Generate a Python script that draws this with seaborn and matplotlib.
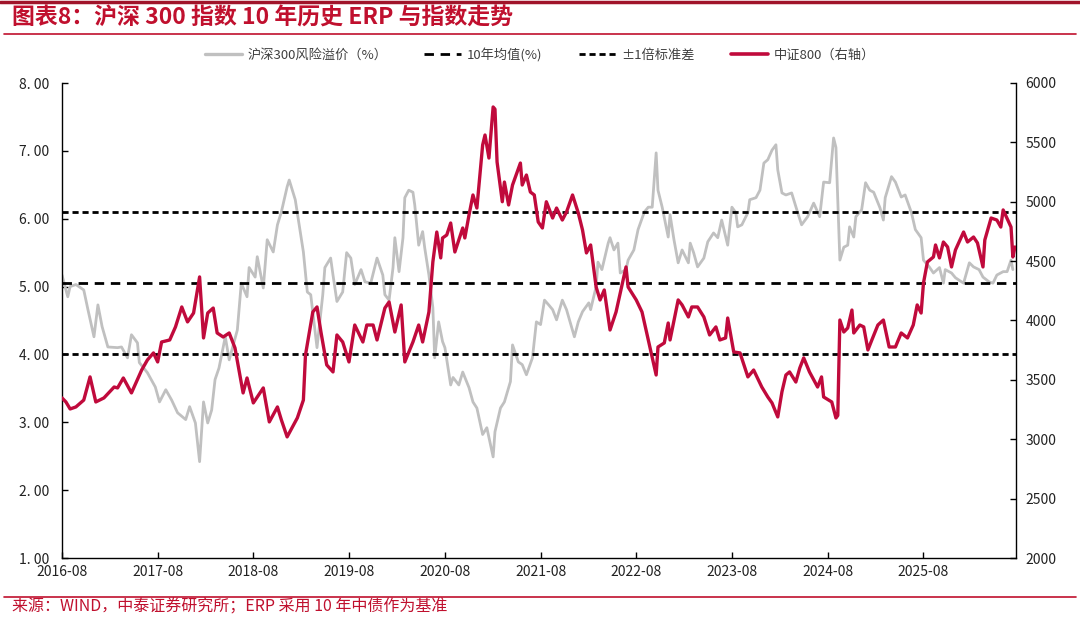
import matplotlib
matplotlib.use("Agg")
import matplotlib.pyplot as plt
from matplotlib.lines import Line2D
from matplotlib.ticker import FuncFormatter
import matplotlib.dates as mdates
import seaborn as sns
import pandas as pd

# ---------------- data ----------------
erp_dates = [
    "2016-08-01", "2016-08-23", "2016-09-01", "2016-09-23", "2016-10-23", "2016-11-08", "2016-12-01", "2016-12-16",
    "2017-01-01", "2017-01-23", "2017-03-01", "2017-03-16", "2017-04-08", "2017-04-23", "2017-05-16", "2017-05-23",
    "2017-06-23", "2017-07-23", "2017-08-08", "2017-09-01", "2017-09-23", "2017-10-16", "2017-11-16", "2017-12-01",
    "2017-12-23", "2018-01-08", "2018-01-23", "2018-02-08", "2018-02-23", "2018-03-08", "2018-03-23", "2018-04-16",
    "2018-05-01", "2018-06-01", "2018-06-16", "2018-07-08", "2018-07-16", "2018-08-08", "2018-08-16", "2018-09-08",
    "2018-09-23", "2018-10-16", "2018-11-01", "2018-11-16", "2018-12-08", "2018-12-16", "2019-01-08", "2019-01-23",
    "2019-02-08", "2019-02-23", "2019-03-08", "2019-04-01", "2019-04-23", "2019-05-01", "2019-05-23", "2019-06-01",
    "2019-06-16", "2019-07-08", "2019-07-23", "2019-08-08", "2019-08-23", "2019-09-16", "2019-10-01", "2019-10-23",
    "2019-11-16", "2019-12-08", "2019-12-16", "2020-01-01", "2020-01-16", "2020-01-23", "2020-02-08", "2020-02-23",
    "2020-03-01", "2020-03-16", "2020-04-01", "2020-04-08", "2020-04-23", "2020-05-08", "2020-05-16", "2020-06-01",
    "2020-06-16", "2020-06-23", "2020-07-08", "2020-07-23", "2020-08-01", "2020-08-23", "2020-09-01", "2020-09-23",
    "2020-10-08", "2020-11-01", "2020-11-16", "2020-12-01", "2020-12-23", "2021-01-08", "2021-02-01", "2021-02-08",
    "2021-03-01", "2021-03-16", "2021-04-08", "2021-04-16", "2021-05-08", "2021-05-23", "2021-06-08", "2021-07-01",
    "2021-07-16", "2021-08-01", "2021-08-16", "2021-09-01", "2021-09-16", "2021-10-01", "2021-10-23", "2021-11-08",
    "2021-12-08", "2021-12-23", "2022-01-08", "2022-02-01", "2022-02-08", "2022-03-01", "2022-03-08", "2022-03-23",
    "2022-04-16", "2022-04-23", "2022-05-08", "2022-05-23", "2022-06-01", "2022-06-23", "2022-07-01", "2022-07-23",
    "2022-08-08", "2022-09-01", "2022-09-16", "2022-10-01", "2022-10-16", "2022-10-23", "2022-11-08", "2022-12-01",
    "2022-12-08", "2022-12-23", "2023-01-08", "2023-01-23", "2023-02-16", "2023-02-23", "2023-03-08", "2023-03-23",
    "2023-04-16", "2023-05-01", "2023-05-23", "2023-06-08", "2023-06-23", "2023-07-16", "2023-08-01", "2023-08-16",
    "2023-08-23", "2023-09-08", "2023-10-01", "2023-10-08", "2023-11-01", "2023-11-16", "2023-12-01", "2023-12-16",
    "2024-01-01", "2024-01-16", "2024-01-23", "2024-02-08", "2024-02-23", "2024-03-16", "2024-04-08", "2024-04-23",
    "2024-05-16", "2024-06-08", "2024-07-01", "2024-07-16", "2024-08-08", "2024-08-23", "2024-09-01", "2024-09-16",
    "2024-10-01", "2024-10-16", "2024-10-23", "2024-11-08", "2024-11-16", "2024-12-08", "2024-12-23", "2025-01-08",
    "2025-01-23", "2025-02-16", "2025-03-01", "2025-03-08", "2025-04-01", "2025-04-16", "2025-05-08", "2025-05-23",
    "2025-06-16", "2025-07-01", "2025-07-23", "2025-08-01", "2025-08-23", "2025-09-08", "2025-10-01", "2025-10-16",
    "2025-10-23", "2025-11-16", "2025-12-01", "2026-01-01", "2026-01-23", "2026-02-08", "2026-03-01", "2026-03-16",
    "2026-04-08", "2026-04-23", "2026-05-08", "2026-06-01", "2026-06-16", "2026-07-01", "2026-07-08",
]
erp_values = [
    5.17, 4.85, 5.00, 5.03, 4.95, 4.66, 4.26, 4.73,
    4.41, 4.11, 4.10, 4.11, 3.95, 4.29, 4.17, 3.88,
    3.73, 3.52, 3.30, 3.48, 3.33, 3.14, 3.04, 3.23,
    2.99, 2.42, 3.30, 2.99, 3.18, 3.63, 3.80, 4.26,
    3.92, 4.36, 5.05, 4.85, 5.28, 5.14, 5.44, 4.98,
    5.69, 5.51, 5.91, 6.10, 6.47, 6.57, 6.28, 5.91,
    5.51, 4.92, 4.88, 4.10, 4.88, 5.28, 5.42, 5.17,
    4.78, 4.92, 5.50, 5.42, 5.03, 5.25, 5.07, 5.05,
    5.42, 5.17, 4.88, 4.80, 5.28, 5.72, 5.22, 5.72,
    6.31, 6.42, 6.39, 6.20, 5.61, 5.81, 5.57, 5.17,
    4.69, 3.95, 4.48, 4.19, 4.10, 3.55, 3.66, 3.55,
    3.74, 3.51, 3.30, 3.21, 2.82, 2.92, 2.49, 2.86,
    3.21, 3.30, 3.60, 4.14, 3.89, 3.85, 3.70, 3.95,
    4.48, 4.44, 4.80, 4.73, 4.66, 4.51, 4.80, 4.66,
    4.26, 4.48, 4.63, 4.76, 4.66, 5.00, 5.36, 5.25,
    5.64, 5.72, 5.54, 5.64, 5.20, 5.25, 5.39, 5.54,
    5.84, 6.10, 6.17, 6.17, 6.97, 6.42, 6.17, 5.73,
    6.06, 5.69, 5.35, 5.54, 5.35, 5.64, 5.50, 5.29,
    5.42, 5.66, 5.79, 5.72, 5.98, 5.61, 6.17, 6.09,
    5.88, 5.91, 6.09, 6.28, 6.31, 6.42, 6.82, 6.87,
    7.01, 7.09, 6.72, 6.38, 6.35, 6.38, 6.09, 5.91,
    6.03, 6.23, 6.03, 6.54, 6.53, 7.19, 7.05, 5.39,
    5.58, 5.61, 5.88, 5.73, 6.03, 6.13, 6.53, 6.42,
    6.39, 6.16, 5.98, 6.31, 6.62, 6.54, 6.32, 6.35,
    6.09, 5.84, 5.72, 5.39, 5.29, 5.20, 5.28, 5.05,
    5.25, 5.20, 5.13, 5.05, 5.35, 5.29, 5.25, 5.14,
    5.07, 5.05, 5.17, 5.22, 5.22, 5.39, 5.25,
]

csi_dates = [
    "2016-08-01", "2016-08-16", "2016-09-01", "2016-09-23", "2016-10-23", "2016-11-16", "2016-12-08",
    "2017-01-08", "2017-02-16", "2017-03-01", "2017-03-23", "2017-04-23", "2017-06-01", "2017-06-23", "2017-07-16",
    "2017-08-01", "2017-08-16", "2017-09-16", "2017-10-08", "2017-11-01", "2017-11-23", "2017-12-16",
    "2018-01-08", "2018-01-23", "2018-02-08", "2018-03-01", "2018-03-16", "2018-04-08", "2018-05-01", "2018-05-23",
    "2018-06-23", "2018-07-08", "2018-08-01", "2018-09-08", "2018-10-01", "2018-11-01", "2018-11-16", "2018-12-08",
    "2019-01-16", "2019-02-08", "2019-02-16", "2019-03-16", "2019-04-01", "2019-04-16", "2019-05-08", "2019-06-01",
    "2019-06-16", "2019-07-08", "2019-08-01", "2019-08-23", "2019-09-23", "2019-10-08", "2019-11-01", "2019-11-16",
    "2019-12-16", "2020-01-01", "2020-01-23", "2020-02-16", "2020-03-01", "2020-04-01", "2020-04-23", "2020-05-08",
    "2020-06-01", "2020-06-16", "2020-07-01", "2020-07-16", "2020-07-23", "2020-08-08", "2020-08-23", "2020-09-08",
    "2020-10-08", "2020-10-16", "2020-11-01", "2020-11-16", "2020-12-01", "2020-12-23", "2021-01-01", "2021-01-16",
    "2021-02-01", "2021-02-08", "2021-02-16", "2021-03-08", "2021-03-16", "2021-04-01", "2021-04-16", "2021-05-16",
    "2021-05-23", "2021-06-08", "2021-06-23", "2021-07-08", "2021-07-23", "2021-08-08", "2021-08-23", "2021-09-16",
    "2021-10-01", "2021-10-23", "2021-11-08", "2021-12-01", "2021-12-23", "2022-01-08", "2022-01-23", "2022-02-08",
    "2022-03-01", "2022-03-16", "2022-04-01", "2022-04-23", "2022-05-16", "2022-06-23", "2022-07-01", "2022-08-01",
    "2022-08-23", "2022-09-16", "2022-10-16", "2022-10-23", "2022-11-16", "2022-12-01", "2022-12-08", "2023-01-08",
    "2023-01-23", "2023-02-16", "2023-03-01", "2023-03-23", "2023-04-16", "2023-05-08", "2023-06-01", "2023-06-16",
    "2023-07-08", "2023-07-16", "2023-08-08", "2023-09-01", "2023-10-01", "2023-10-23", "2023-11-23", "2023-12-16",
    "2024-01-01", "2024-01-23", "2024-02-08", "2024-02-23", "2024-03-08", "2024-04-01", "2024-04-16", "2024-05-01",
    "2024-05-23", "2024-06-23", "2024-07-08", "2024-07-16", "2024-08-16", "2024-09-01", "2024-09-08", "2024-09-16",
    "2024-10-01", "2024-10-16", "2024-11-01", "2024-11-08", "2024-12-01", "2024-12-16", "2025-01-01", "2025-01-16",
    "2025-02-08", "2025-03-01", "2025-03-23", "2025-04-16", "2025-05-08", "2025-06-01", "2025-06-23", "2025-07-08",
    "2025-07-23", "2025-08-01", "2025-08-16", "2025-09-08", "2025-09-16", "2025-10-01", "2025-10-16", "2025-11-01",
    "2025-11-16", "2025-12-01", "2026-01-01", "2026-01-16", "2026-02-08", "2026-02-23", "2026-03-16", "2026-03-23",
    "2026-04-16", "2026-05-08", "2026-05-23", "2026-06-01", "2026-07-01", "2026-07-08", "2026-07-16",
]
csi_values = [
    3348, 3314, 3255, 3272, 3330, 3525, 3314,
    3348, 3440, 3432, 3516, 3390, 3583, 3668, 3727,
    3651, 3819, 3836, 3946, 4114, 3988, 4063,
    4367, 3853, 4063, 4105, 3895, 3861, 3895, 3769,
    3390, 3516, 3306, 3432, 3146, 3272, 3163, 3020,
    3180, 3330, 3710, 4072, 4114, 3903, 3626, 3567,
    3878, 3819, 3651, 3962, 3819, 3962, 3962, 3836,
    4105, 4156, 3903, 4131, 3651, 3819, 3962, 3819,
    4072, 4493, 4745, 4527, 4695, 4720, 4821, 4577,
    4779, 4695, 4889, 5057, 4947, 5478, 5562, 5368,
    5798, 5780, 5335, 5000, 5166, 4973, 5141, 5326,
    5141, 5225, 5082, 5057, 4830, 4779, 5000, 4863,
    4947, 4846, 4914, 5057, 4905, 4762, 4569, 4636,
    4282, 4173, 4257, 3920, 4072, 4451, 4282, 4173,
    4072, 3836, 3541, 3777, 3811, 3979, 3836, 4173,
    4131, 4030, 4114, 4114, 4030, 3878, 3946, 3836,
    3853, 4021, 3735, 3727, 3525, 3583, 3440, 3356,
    3306, 3188, 3400, 3541, 3567, 3482, 3600, 3685,
    3567, 3440, 3525, 3356, 3314, 3179, 3200, 4004,
    3903, 3937, 4088, 3895, 3962, 3946, 3752, 3836,
    3962, 4004, 3777, 3777, 3895, 3853, 3962, 4131,
    4063, 4316, 4493, 4535, 4636, 4527, 4661, 4619,
    4451, 4594, 4745, 4661, 4703, 4653, 4451, 4678,
    4863, 4846, 4787, 4931, 4787, 4535, 4619,
]

erp_mean = 5.05
erp_std = 1.05
left_ticks = [1, 2, 3, 4, 5, 6, 7, 8]
right_ticks = [2000, 2500, 3000, 3500, 4000, 4500, 5000, 5500, 6000]
xtick_dates = ["2016-08-01", "2017-08-01", "2018-08-01", "2019-08-01", "2020-08-01",
               "2021-08-01", "2022-08-01", "2023-08-01", "2024-08-01", "2025-08-01"]
x_range = ["2016-08-01", "2026-07-20"]

title_text = "图表8：沪深 300 指数 10 年历史 ERP 与指数走势"
source_text = "来源：WIND，中泰证券研究所；ERP 采用 10 年中债作为基准"
legend_labels = ["沪深300风险溢价（%）", "10年均值(%)", "±1倍标准差", "中证800（右轴）"]

# ---------------- style ----------------
RED = "#C00A3C"
TITLE_RED = "#C0102E"
GRAY = "#C0C0C0"

sns.set_theme(style="white")
plt.rcParams["font.family"] = ["Noto Sans CJK SC", "DejaVu Sans"]
plt.rcParams["axes.unicode_minus"] = False

erp_df = pd.DataFrame({"date": pd.to_datetime(erp_dates), "erp": erp_values})
csi_df = pd.DataFrame({"date": pd.to_datetime(csi_dates), "csi": csi_values})

fig = plt.figure(figsize=(10.8, 6.18), dpi=100)
fig.patch.set_facecolor("white")
ax = fig.add_axes([62 / 1080, 1 - 558 / 618, (1016 - 62) / 1080, (558 - 83) / 618])
ax2 = ax.twinx()

sns.lineplot(data=erp_df, x="date", y="erp", ax=ax, color=GRAY, linewidth=2.0, zorder=2)
mean_ls = (0, (3.4, 2.4))
std_ls = (0, (2.2, 1.4))
ax.axhline(erp_mean, color="black", linewidth=2.0, linestyle=mean_ls, zorder=3)
ax.axhline(erp_mean + erp_std, color="black", linewidth=2.0, linestyle=std_ls, zorder=3)
ax.axhline(erp_mean - erp_std, color="black", linewidth=2.0, linestyle=std_ls, zorder=3)

sns.lineplot(data=csi_df, x="date", y="csi", ax=ax2, color=RED, linewidth=2.4, zorder=4)

ax.set_ylim(1, 8)
ax2.set_ylim(2000, 6000)
ax.set_xlim(pd.to_datetime(x_range[0]), pd.to_datetime(x_range[1]))
ax.set_yticks(left_ticks)
ax2.set_yticks(right_ticks)
ax.yaxis.set_major_formatter(FuncFormatter(lambda v, p: f"{v:.2f}".replace(".", ". ")))
ax2.yaxis.set_major_formatter(FuncFormatter(lambda v, p: f"{int(v)}"))
ax.set_xticks(pd.to_datetime(xtick_dates))
ax.xaxis.set_major_formatter(mdates.DateFormatter("%Y-%m"))

for a in (ax, ax2):
    a.set_xlabel("")
    a.set_ylabel("")
    a.grid(False)
    a.set_facecolor("none")
    a.spines["top"].set_visible(False)
    for s in ("left", "right", "bottom"):
        a.spines[s].set_color("black")
        a.spines[s].set_linewidth(1.0)

ax.spines["right"].set_visible(False)
ax2.spines["left"].set_visible(False)
ax2.spines["bottom"].set_visible(False)

ax.tick_params(axis="y", direction="in", length=4, width=1, color="black",
               labelsize=10, labelcolor="#222222", pad=9, left=True, right=False)
ax.tick_params(axis="x", direction="in", length=4, width=1, color="black",
               labelsize=10, labelcolor="#222222", pad=5, bottom=True)
ax2.tick_params(axis="y", direction="in", length=4, width=1, color="black",
                labelsize=10, labelcolor="#222222", pad=7, right=True, left=False)

# ---------------- legend ----------------
handles = [
    Line2D([], [], color=GRAY, linewidth=2.4),
    Line2D([], [], color="black", linewidth=2.0, linestyle=mean_ls),
    Line2D([], [], color="black", linewidth=2.0, linestyle=std_ls),
    Line2D([], [], color=RED, linewidth=2.6),
]
fig.legend(handles, legend_labels, loc="center", bbox_to_anchor=(0.500, 1 - 55 / 618),
           ncol=4, frameon=False, fontsize=9.5, handlelength=2.8, handletextpad=0.4,
           columnspacing=2.8, labelcolor="#404040")

# ---------------- title / source / rules ----------------
fig.text(0.011, 1 - 18 / 618, title_text, fontsize=16.5, fontweight="bold",
         fontstyle="italic", color=TITLE_RED, va="center", ha="left")
fig.text(0.011, 1 - 607 / 618, source_text, fontsize=11.5, color=TITLE_RED,
         va="center", ha="left")

fig.add_artist(Line2D([0, 1], [1 - 1.5 / 618] * 2, transform=fig.transFigure,
                      color="#A0142A", linewidth=2.5))
fig.add_artist(Line2D([0.004, 0.996], [1 - 34 / 618] * 2, transform=fig.transFigure,
                      color=TITLE_RED, linewidth=1.2))
fig.add_artist(Line2D([0.004, 0.996], [1 - 597 / 618] * 2, transform=fig.transFigure,
                      color=TITLE_RED, linewidth=1.2))

fig.savefig("out.png", dpi=100, facecolor="white")
